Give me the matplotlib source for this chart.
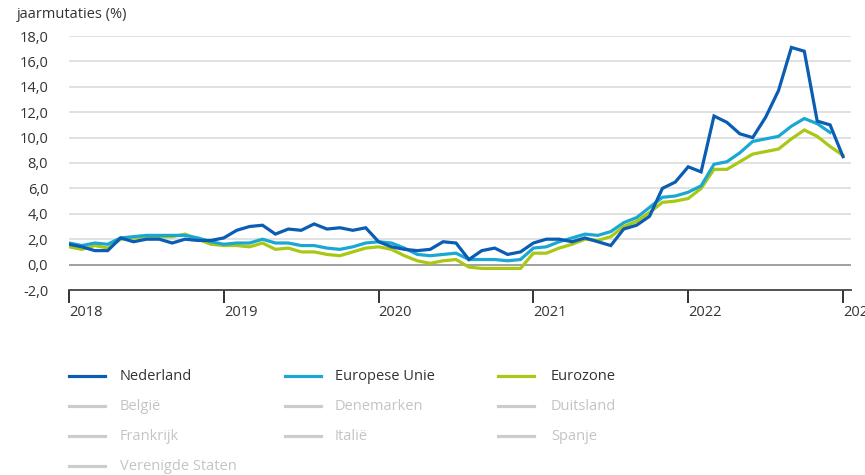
import matplotlib
matplotlib.use("Agg")
import matplotlib.pyplot as plt
from matplotlib.lines import Line2D
from matplotlib.ticker import FuncFormatter

plt.rcParams['font.family'] = ['Open Sans', 'DejaVu Sans']

# Monthly data: Jan 2018 .. Jan 2023
nederland = [1.6, 1.4, 1.1, 1.1, 2.1, 1.8, 2.0, 2.0, 1.7, 2.0, 1.9, 1.9,
             2.1, 2.7, 3.0, 3.1, 2.4, 2.8, 2.7, 3.2, 2.8, 2.9, 2.7, 2.9,
             1.8, 1.4, 1.2, 1.1, 1.2, 1.8, 1.7, 0.4, 1.1, 1.3, 0.8, 1.0,
             1.7, 2.0, 2.0, 1.8, 2.1, 1.8, 1.5, 2.8, 3.1, 3.8, 6.0, 6.5,
             7.7, 7.3, 11.7, 11.2, 10.3, 10.0, 11.6, 13.7, 17.1, 16.8, 11.3, 11.0,
             8.5]
europese_unie = [1.7, 1.5, 1.7, 1.6, 2.1, 2.2, 2.3, 2.3, 2.3, 2.3, 2.1, 1.8,
                 1.6, 1.7, 1.7, 2.0, 1.7, 1.7, 1.5, 1.5, 1.3, 1.2, 1.4, 1.7,
                 1.8, 1.7, 1.3, 0.8, 0.7, 0.8, 0.9, 0.4, 0.4, 0.4, 0.3, 0.4,
                 1.3, 1.4, 1.8, 2.1, 2.4, 2.3, 2.6, 3.3, 3.7, 4.5, 5.3, 5.4,
                 5.7, 6.2, 7.9, 8.1, 8.8, 9.7, 9.9, 10.1, 10.9, 11.5, 11.1, 10.4]
eurozone = [1.4, 1.2, 1.5, 1.3, 2.0, 2.1, 2.2, 2.2, 2.2, 2.4, 2.0, 1.6,
            1.5, 1.5, 1.4, 1.7, 1.2, 1.3, 1.0, 1.0, 0.8, 0.7, 1.0, 1.3,
            1.4, 1.2, 0.7, 0.3, 0.1, 0.3, 0.4, -0.2, -0.3, -0.3, -0.3, -0.3,
            0.9, 0.9, 1.3, 1.6, 2.0, 1.9, 2.2, 3.0, 3.4, 4.1, 4.9, 5.0,
            5.2, 6.0, 7.5, 7.5, 8.1, 8.7, 8.9, 9.1, 9.9, 10.6, 10.1, 9.3,
            8.6]

year_labels = ['2018', '2019', '2020', '2021', '2022', '2023']
y_ticks = [-2, 0, 2, 4, 6, 8, 10, 12, 14, 16, 18]

legend_active = ['Nederland', 'Europese Unie', 'Eurozone']
legend_inactive = [['België', 'Denemarken', 'Duitsland'],
                   ['Frankrijk', 'Italië', 'Spanje'],
                   ['Verenigde Staten']]

c_nl = '#0b5cb3'
c_eu = '#1aa8d2'
c_ez = '#a9c814'
c_gray = '#cccccc'

W, H = 865, 475
fig = plt.figure(figsize=(W / 100, H / 100), dpi=100)
ax = fig.add_axes([69 / W, 1 - 290 / H, (851 - 69) / W, (290 - 36) / H])

x_nl = list(range(len(nederland)))
x_eu = list(range(len(europese_unie)))
x_ez = list(range(len(eurozone)))

for yv in y_ticks[1:]:
    ax.axhline(yv, color='#999999' if yv == 0 else '#dedede', lw=1.3, zorder=1)

lw = 2.3
ax.plot(x_ez, eurozone, color=c_ez, lw=lw, zorder=3, solid_joinstyle='miter')
ax.plot(x_eu, europese_unie, color=c_eu, lw=lw, zorder=4, solid_joinstyle='miter')
ax.plot(x_nl, nederland, color=c_nl, lw=lw, zorder=5, solid_joinstyle='miter')

month_px = (843 - 69) / 60
ax.set_xlim(0, (851 - 69) / month_px)
ax.set_ylim(-2, 18)

for s in ['top', 'right', 'left']:
    ax.spines[s].set_visible(False)
ax.spines['bottom'].set_color('#444444')
ax.spines['bottom'].set_linewidth(1.3)

ax.set_yticks(y_ticks)
ax.yaxis.set_major_formatter(FuncFormatter(lambda v, p: f"{v:.1f}".replace('.', ',')))
ax.tick_params(axis='y', length=0, pad=15, labelsize=10.5, labelcolor='#333333')

ax.set_xticks([12 * i for i in range(len(year_labels))])
ax.set_xticklabels(year_labels, ha='left')
ax.tick_params(axis='x', direction='out', length=9.5, width=1.4, color='#333333',
               pad=1, labelsize=10.5, labelcolor='#333333')
for lbl in ax.get_xticklabels():
    lbl.set_clip_on(False)

fig.text(17 / W, 1 - 15 / H, 'jaarmutaties (%)', fontsize=10.5, color='#333333',
         va='center', ha='left')

# Legend (manual layout)
col_line_x = [69, 285, 498]
col_text_x = [120, 335, 551]
row_y = [376, 406, 436, 466]
colors = [c_nl, c_eu, c_ez]
for j, name in enumerate(legend_active):
    y = 1 - row_y[0] / H
    fig.add_artist(Line2D([col_line_x[j] / W, (col_line_x[j] + 36) / W], [y, y],
                          color=colors[j], lw=2.3, transform=fig.transFigure))
    fig.text(col_text_x[j] / W, y, name, fontsize=10.5, color='#333333',
             va='center', ha='left')
for r, row in enumerate(legend_inactive):
    y = 1 - row_y[r + 1] / H
    for j, name in enumerate(row):
        fig.add_artist(Line2D([col_line_x[j] / W, (col_line_x[j] + 36) / W], [y, y],
                              color=c_gray, lw=2.3, transform=fig.transFigure))
        fig.text(col_text_x[j] / W, y, name, fontsize=10.5, color='#c4c4c4',
                 va='center', ha='left')

fig.savefig('out.png', dpi=100)
